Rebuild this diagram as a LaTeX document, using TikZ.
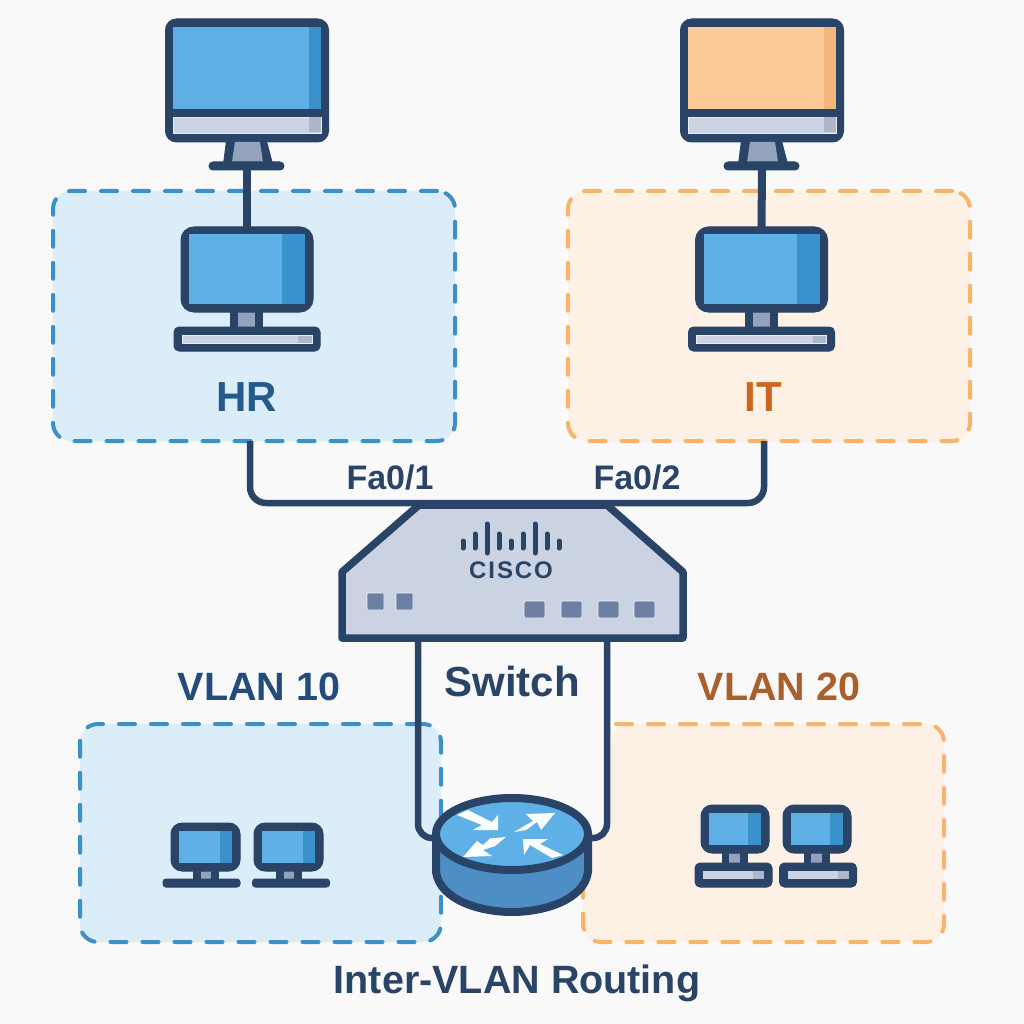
\documentclass[tikz,border=0pt]{standalone}
\usepackage{fontspec}
\setmainfont{Liberation Sans}
\usetikzlibrary{shapes.geometric}
\definecolor{pagebg}{HTML}{F9F9F9}
\definecolor{navy}{HTML}{2A4468}
\definecolor{scrblue}{HTML}{60B0E8}
\definecolor{scrshade}{HTML}{3A92CD}
\definecolor{scrorange}{HTML}{FDC998}
\definecolor{shadeorange}{HTML}{F3B77C}
\definecolor{panel}{HTML}{CBD3E2}
\definecolor{panelshade}{HTML}{AEB6C9}
\definecolor{neckgray}{HTML}{93A2BD}
\definecolor{portgray}{HTML}{6B80A3}
\definecolor{hrline}{HTML}{3D8FC7}
\definecolor{hrfill}{HTML}{DCEDFA}
\definecolor{itline}{HTML}{F8B469}
\definecolor{itfill}{HTML}{FDF0E4}
\definecolor{routerside}{HTML}{4D8FC4}
\definecolor{hrtext}{HTML}{255A8C}
\definecolor{ittext}{HTML}{C9661F}
\definecolor{vlantext}{HTML}{234B7B}
\definecolor{vlantwotext}{HTML}{A9602C}
\tikzset{
  wire/.style={draw=navy, line width=6.5pt},
  frame/.style={draw=navy, fill=navy, line width=1pt},
  bluegroup/.style={draw=hrline, fill=hrfill, line width=4pt, rounded corners=18pt,
    dash pattern=on 16pt off 16pt, line cap=round, inner sep=0pt},
  orangegroup/.style={bluegroup, draw=itline, fill=itfill},
  title/.style={font=\fontsize{42}{44}\selectfont\bfseries, inner sep=0pt},
  vlantitle/.style={font=\fontsize{39.5}{42}\selectfont\bfseries, inner sep=0pt},
  portlabel/.style={font=\fontsize{34}{36}\selectfont\bfseries, text=navy, inner sep=0pt},
  routertop/.style={ellipse, draw=navy, fill=scrblue, line width=8pt, inner sep=0pt,
    minimum width=152pt, minimum height=72pt},
  turnarrow/.style={fill=white, draw=none},
  barglass/.style={fill=panel, draw=white!60!panel, line width=.8pt},
  pics/bigmonitor/.style 2 args={code={
    \draw[frame, rounded corners=11pt] (-81.5,0) rectangle (81.5,123);
    \fill[#1] (-74,8) rectangle (74,90);
    \fill[#2] (62,8) rectangle (74,90);
    \draw[barglass] (-74,98) rectangle (74,114);
    \fill[panelshade] (62,98.5) rectangle (73.5,113.5);
    \fill[navy] (-21,122) -- (20,122) -- (26,145) -- (-24,145) -- cycle;
    \fill[neckgray] (-12,123) -- (13,123) -- (16,143) -- (-15,143) -- cycle;
    \draw[frame, rounded corners=4pt] (-38,143) rectangle (37,151);
    \coordinate (-base) at (0,151);
  }},
  pics/deskpc/.style 2 args={code={
    \fill[navy] (-17,84) rectangle (16,101);
    \fill[neckgray] (-9,85) rectangle (8,100);
    \draw[frame, rounded corners=13pt] (-66,0) rectangle (66,85);
    \fill[#1] (-58,7) rectangle (58,77);
    \fill[#2] (35,7) rectangle (58,77);
    \draw[frame, rounded corners=5pt] (-73,100) rectangle (73,124);
    \draw[barglass] (-65,108) rectangle (65,116);
    \fill[panelshade] (51,108.5) rectangle (64.5,115.5);
    \coordinate (-top) at (0,0);
  }},
  pics/smallpc/.style={code={
    \fill[navy] (-13,47) rectangle (13,58);
    \fill[neckgray] (-5,48) rectangle (5,56);
    \draw[frame, rounded corners=11pt] (-34.5,0) rectangle (34.5,48);
    \fill[scrblue] (-27,8) rectangle (26,40);
    \fill[scrshade] (14,8) rectangle (26,40);
    \draw[frame, rounded corners=3pt] (-38.5+#1,56) rectangle (38.5+#1,64);
  }},
  pics/keypc/.style={code={
    \fill[navy] (-13,47) rectangle (13,59);
    \fill[neckgray] (-6,48) rectangle (5,58);
    \draw[frame, rounded corners=11pt] (-34,0) rectangle (34,48);
    \fill[scrblue] (-26,8) rectangle (26,40);
    \fill[scrshade] (13,8) rectangle (26,40);
    \draw[frame, rounded corners=5pt] (-38.5+#1,58) rectangle (38.5+#1,82);
    \fill[panel] (-30.5+#1,66) rectangle (30.5+#1,74);
    \fill[panelshade] (19.5+#1,66) rectangle (30.5+#1,74);
  }},
}
\begin{document}
\begin{tikzpicture}[x=1pt,y=-1pt]
\fill[pagebg] (0,0) rectangle (1024,1024);

% department and vlan areas
\node[bluegroup, minimum width=402pt, minimum height=250pt] (hrbox) at (254,316) {};
\node[orangegroup, minimum width=402pt, minimum height=250pt] (itbox) at (769,316) {};
\node[bluegroup, minimum width=361pt, minimum height=218pt] (vlanten) at (260.5,833) {};
\fill[itfill, rounded corners=18pt] (611,724) -- (944,724) -- (944,942) -- (583,942) -- (583,838) -- (611,838) -- cycle;
\draw[draw=itline, line width=4pt, dash pattern=on 16pt off 16pt, line cap=round, rounded corners=18pt]
  (616,724) -- (944,724) -- (944,942) -- (583,942) -- (583,838);

% free ends of the links
\coordinate (hrdrop) at (250,441);
\coordinate (itdrop) at (764,441);
\coordinate (swtop) at (512,503);
\coordinate (swleft) at (418,640);
\coordinate (swright) at (607,640);
\coordinate (routerwest) at (436,838);
\coordinate (routereast) at (588,838);

\draw[wire, rounded corners=14pt] (swleft) |- (routerwest);
\draw[wire, rounded corners=14pt] (swright) |- (routereast);

% devices
\pic (hrmon) at (247,19) {bigmonitor={scrblue}{scrshade}};
\pic (itmon) at (762,19) {bigmonitor={scrorange}{shadeorange}};
\pic (hrpc) at (247,227) {deskpc={scrblue}{scrshade}};
\pic (itpc) at (761.5,227) {deskpc={scrblue}{scrshade}};
\draw[wire, line width=8pt] (hrmon-base) -- (hrpc-top);
\draw[wire, line width=8pt] (itmon-base) -- (itpc-top);
\pic (vlanpca) at (205.5,823) {smallpc=-4};
\pic (vlanpcb) at (288.5,823) {smallpc=2.5};
\pic (vlanpcc) at (735,805) {keypc=-1.5};
\pic (vlanpcd) at (817,805) {keypc=1};

% switch
\draw[draw=navy, fill=panel, line width=7.5pt, line join=round]
  (419,505) -- (607,505) -- (683,572) -- (683,638) -- (342,638) -- (342,572) -- cycle;
\draw[wire, rounded corners=16pt] (hrdrop) |- (swtop) -| (itdrop);
\foreach \barx/\bartop/\barbot in {463/541/548,475/534/548,487/524/553,499/534/548,511/541/548,523/534/548,535/524/553,547/534/548,559/541/548}
  \draw[navy, line width=5pt, line cap=round] (\barx,\bartop) -- (\barx,\barbot);
\node[font=\fontsize{24}{24}\selectfont\bfseries\addfontfeature{LetterSpace=8}, text=navy, inner sep=0pt] (brand) at (511,570) {CISCO};
\foreach \portx in {367,396}
  \draw[fill=portgray, draw=white!70!panel, line width=.6pt, rounded corners=1pt] (\portx,593) rectangle ++(17,17);
\foreach \portx in {524,561,598,634}
  \draw[fill=portgray, draw=white!70!panel, line width=.6pt, rounded corners=2pt] (\portx,601) rectangle ++(21,17);

% router
\draw[draw=navy, fill=routerside, line width=8pt, line join=round]
  (436,834) -- (436,872) .. controls (440,900) and (480,912) .. (512,912)
  .. controls (544,912) and (584,900) .. (588,872) -- (588,834) -- cycle;
\node[routertop] (router) at (512,834) {};
\fill[turnarrow] (457,815) -- (468,810) -- (492,822) -- (498,815) -- (498,830) -- (473,830) -- (482,825) -- cycle;
\fill[turnarrow] (514,832) -- (533,821) -- (526,814) -- (555,813) -- (541,830) -- (537,822) -- (526,830) -- cycle;
\fill[turnarrow] (506,837) -- (490,838.5) -- (483,845) -- (477,841) -- (463,857) -- (492,856) -- (483,850) -- (495,846) -- cycle;
\fill[turnarrow] (523,839) -- (548,839) -- (540,844) -- (563,855) -- (552,858) -- (530,845) -- (524,855) -- cycle;

% labels
\node[title, text=hrtext] (hrlabel) at (247,397) {HR};
\node[title, text=ittext] (itlabel) at (763,397) {IT};
\node[portlabel] (faone) at (390,478) {Fa0/1};
\node[portlabel] (fatwo) at (637,478) {Fa0/2};
\node[title, text=navy] (swlabel) at (512,681) {Switch};
\node[vlantitle, text=vlantext] (vlanlabel) at (259,687) {VLAN 10};
\node[vlantitle, text=vlantwotext] (vlantwolabel) at (779,687) {VLAN 20};
\node[vlantitle, text=navy] (routelabel) at (517,983) {Inter-VLAN Routing};
\end{tikzpicture}
\end{document}
